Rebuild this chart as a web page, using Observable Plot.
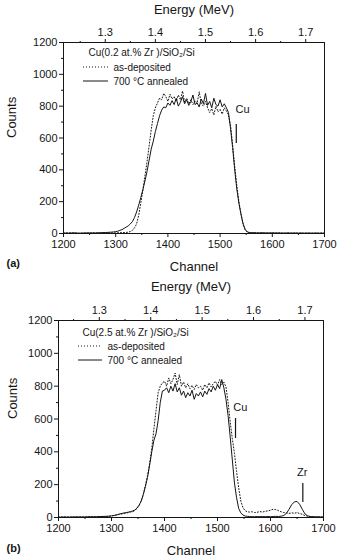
<!DOCTYPE html>
<html><head><meta charset="utf-8">
<script src="https://cdn.jsdelivr.net/npm/d3@7"></script>
<script src="https://cdn.jsdelivr.net/npm/@observablehq/plot@0.6"></script>
<style>body{margin:0;background:#fff;width:338px;overflow:hidden} svg{display:block}</style>
</head><body><div id="chart"></div>
<script>
// Channel grid shared by all spectra
const channels = [
 1200,1210,1220,1230,1240,1250,1260,1270,1280,1290,
 1296,1300,1304,1308,1312,1316,1320,1324,1328,1332,1336,1340,1344,1348,1352,1356,1360,1364,1368,1372,1376,1380,1384,1388,1392,
 1396,1400,1404,1408,1412,1416,1420,1424,1428,1432,1436,1440,1444,1448,1452,1456,1460,1464,1468,1472,1476,1480,1484,1488,1492,1496,1500,1504,1508,1512,
 1516,1520,1524,1528,1532,1536,1540,1544,1548,1552,1556,1560,
 1565,1570,1575,1580,1585,1590,1595,1600,1605,1610,1615,1620,1625,1630,1635,1640,1645,1650,1655,1660,1665,1670,1675,1680,1685,1690,1695,1700
];
// Panel (a): Cu(0.2 at.% Zr)/SiO2/Si
const countsA_asDeposited = [
 2,4,3,1,3,2,4,2,3,3,
 4,4,5,5,6,6,7,8,12,20,35,60,113,190,270,360,450,550,650,740,790,820,850,840,880,
 860,830,875,845,860,830,870,840,895,825,850,815,840,810,835,820,890,815,800,830,790,760,785,745,800,765,780,750,790,770,
 745,680,555,420,300,200,125,62,25,9,6,4,
 3,4,2,3,4,2,3,4,3,2,3,3,2,4,3,2,3,2,3,2,3,2,2,3,2,2,3,2
];
const countsA_annealed = [
 3,2,4,2,3,4,3,5,6,8,
 10,12,14,20,24,32,40,48,60,75,100,135,178,225,275,330,390,460,530,580,640,690,740,775,795,
 790,820,805,835,810,850,800,825,860,815,840,805,830,870,810,820,795,845,815,880,805,830,790,850,810,800,840,795,815,790,
 760,660,540,400,280,190,120,60,25,10,6,5,
 5,4,4,5,3,4,3,4,3,4,3,2,3,3,2,3,3,2,3,2,2,3,2,2,3,2,2,2
];
// Panel (b): Cu(2.5 at.% Zr)/SiO2/Si
const countsB_asDeposited = [
 2,3,3,2,4,3,4,5,5,6,
 8,10,12,14,17,20,22,25,27,30,33,36,42,55,72,100,140,195,255,330,420,540,650,760,800,
 820,830,800,850,815,840,880,810,870,800,825,790,815,785,805,780,810,790,800,775,810,790,820,795,815,830,805,840,810,825,
 795,700,580,480,390,280,180,100,60,42,35,33,
 35,30,32,36,33,38,40,45,50,48,42,35,30,28,25,28,26,30,24,20,12,8,5,4,3,4,3,2
];
const countsB_annealed = [
 2,3,2,4,3,3,5,4,6,7,
 8,10,12,15,18,22,25,28,30,33,36,40,45,58,75,100,140,190,245,320,400,470,510,590,700,
 770,775,790,760,800,770,815,765,790,745,770,730,760,740,775,720,755,740,765,735,770,750,785,765,800,775,810,785,840,790,
 720,620,490,350,210,120,55,28,15,9,7,6,
 5,5,6,5,6,5,6,5,6,7,6,8,12,25,50,78,95,98,80,50,22,10,6,5,4,4,3,3
];
const channelTicks = [1200,1300,1400,1500,1600,1700];
const channelMinor = [1250,1350,1450,1550,1650];
const countTicks = [0,200,400,600,800,1000,1200];
const countMinor = [100,300,500,700,900,1100];
const energyTicks = [1.3,1.4,1.5,1.6,1.7];
const energyMinor = [1.25,1.35,1.45,1.55,1.65];
const calibA = {e0:1.3, ch0:1280, chPerTenth:96};
const calibB = {e0:1.3, ch0:1277, chPerTenth:97};
const markersA = [{label:"Cu", ch:1531, y1:565, y2:685, labelCh:1543, labelY:780}];
const markersB = [
 {label:"Cu", ch:1534, y1:481, y2:603, labelCh:1543, labelY:672},
 {label:"Zr", ch:1661, y1:91, y2:207, labelCh:1660, labelY:276}
];
const titleA = "Cu(0.2 at.% Zr )/SiO₂/Si";
const titleB = "Cu(2.5 at.% Zr )/SiO₂/Si";
const legendLabels = ["as-deposited", "700 °C annealed"];

const FONT = "'Liberation Sans', Arial, Helvetica, sans-serif";
const INK = "#151515";

function panel(o) {
  const rows = channels.map((c, i) => ({c, dep: o.asDep[i], ann: o.annealed[i]}));
  const toCh = e => o.calib.ch0 + (e - o.calib.e0) / 0.1 * o.calib.chPerTenth;
  const toE = ch => o.calib.e0 + (ch - o.calib.ch0) / o.calib.chPerTenth * 0.1;
  const mid = {lineAnchor: "middle", fill: INK};
  const svg = Plot.plot({
    width: 338, height: o.height,
    marginTop: o.mt, marginBottom: o.mb, marginLeft: o.ml, marginRight: o.mr,
    style: {fontFamily: FONT, fontSize: "11px", color: INK, background: "#fff", overflow: "visible"},
    x: {domain: [1200, 1700]},
    y: {domain: [0, 1200]},
    marks: [
      Plot.axisX({anchor: "bottom", ticks: channelTicks, tickSize: 4, tickPadding: 3, tickFormat: "d", label: null, fontSize: 11}),
      Plot.axisX({anchor: "bottom", ticks: channelMinor, tickSize: 2, tickFormat: () => "", label: null}),
      Plot.axisX({anchor: "top", ticks: energyTicks.map(toCh), tickSize: 4, tickPadding: 3, tickFormat: d => toE(d).toFixed(1), label: null, fontSize: 11}),
      Plot.axisX({anchor: "top", ticks: energyMinor.map(toCh), tickSize: 2, tickFormat: () => "", label: null}),
      Plot.axisY({anchor: "left", ticks: countTicks, tickSize: 4, tickPadding: 2, tickFormat: "d", label: null, fontSize: 11}),
      Plot.axisY({anchor: "left", ticks: countMinor, tickSize: 2, tickFormat: () => "", label: null}),
      Plot.frame({stroke: INK, strokeWidth: 1}),
      Plot.line(rows, {x: "c", y: "dep", stroke: INK, strokeWidth: 1, strokeDasharray: "1,2"}),
      Plot.line(rows, {x: "c", y: "ann", stroke: INK, strokeWidth: 1}),
      Plot.ruleX(o.markers, {x: "ch", y1: "y1", y2: "y2", stroke: INK, strokeWidth: 1.2}),
      Plot.text(o.markers, {x: "labelCh", y: "labelY", text: "label", fontSize: 11, ...mid}),
      Plot.text(["Energy (MeV)"], {frameAnchor: "top", dy: o.energyDy, fontSize: 13, ...mid}),
      Plot.text(["Channel"], {frameAnchor: "bottom", dy: o.channelDy, fontSize: 13, ...mid}),
      Plot.text(["Counts"], {frameAnchor: "left", rotate: -90, dx: o.countsDx, fontSize: 13, ...mid}),
      Plot.text([o.tag], {frameAnchor: "bottom-left", dx: o.tagDx, dy: o.tagDy, textAnchor: "start", fontSize: 11, fontWeight: "bold", ...mid}),
      Plot.text([o.title], {frameAnchor: "top-left", dx: o.lg.titleDx, dy: o.lg.titleDy, textAnchor: "start", fontSize: 10, ...mid}),
      Plot.text([legendLabels[0]], {frameAnchor: "top-left", dx: o.lg.textDx, dy: o.lg.row1Dy, textAnchor: "start", fontSize: 10, ...mid}),
      Plot.text([legendLabels[1]], {frameAnchor: "top-left", dx: o.lg.textDx, dy: o.lg.row2Dy, textAnchor: "start", fontSize: 10, ...mid})
    ]
  });
  const g = d3.select(svg).append("g").attr("stroke", INK).attr("stroke-width", 1);
  g.append("line").attr("x1", o.ml + o.lg.lineX1).attr("x2", o.ml + o.lg.lineX2)
    .attr("y1", o.mt + o.lg.row1Dy).attr("y2", o.mt + o.lg.row1Dy).attr("stroke-dasharray", "1,2");
  g.append("line").attr("x1", o.ml + o.lg.lineX1).attr("x2", o.ml + o.lg.lineX2)
    .attr("y1", o.mt + o.lg.row2Dy).attr("y2", o.mt + o.lg.row2Dy);
  return svg;
}

const root = document.getElementById("chart");
root.append(panel({
  asDep: countsA_asDeposited, annealed: countsA_annealed, calib: calibA, markers: markersA,
  title: titleA, tag: "(a)", height: 275, mt: 42, mb: 42, ml: 63, mr: 14,
  energyDy: -33, channelDy: 33, countsDx: -52, tagDx: -57, tagDy: 30,
  lg: {titleDx: 25, titleDy: 10, textDx: 50, row1Dy: 25, row2Dy: 39, lineX1: 20, lineX2: 45}
}));
root.append(panel({
  asDep: countsB_asDeposited, annealed: countsB_annealed, calib: calibB, markers: markersB,
  title: titleB, tag: "(b)", height: 283, mt: 45, mb: 41, ml: 58, mr: 15,
  energyDy: -34, channelDy: 33, countsDx: -46, tagDx: -52, tagDy: 31,
  lg: {titleDx: 24, titleDy: 12, textDx: 49, row1Dy: 26, row2Dy: 40, lineX1: 20, lineX2: 44}
}));
</script></body></html>
